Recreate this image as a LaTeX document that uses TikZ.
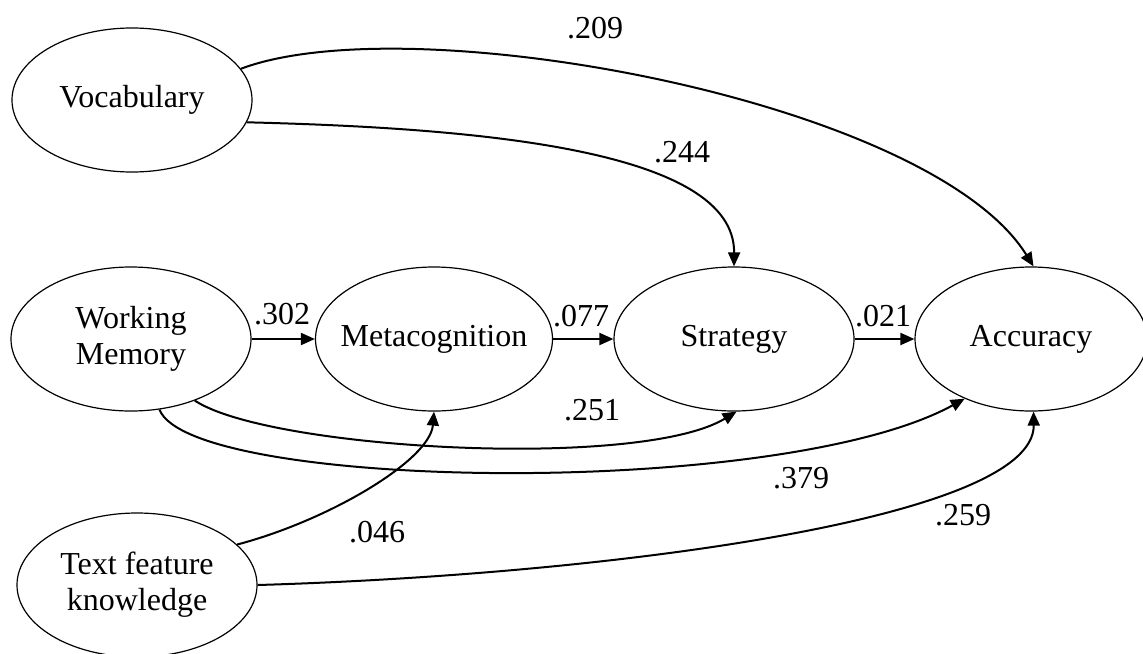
\documentclass[tikz,border=0pt]{standalone}
\usepackage{fontspec}
\setmainfont{Liberation Serif}
\usetikzlibrary{arrows.meta,shapes.geometric}
\begin{document}
\begin{tikzpicture}[x=0.5pt,y=-0.5pt,
  lat/.style={draw,line width=0.6pt,ellipse,minimum width=120pt,minimum height=72pt,inner xsep=-15pt,inner ysep=0pt,align=center,font=\fontsize{16}{18}\selectfont},
  pth/.style={draw,line width=1pt,-{Triangle[length=7pt,width=6pt]}},
  lbl/.style={font=\fontsize{16}{18}\selectfont,inner sep=0pt}]
\useasboundingbox (0,0) rectangle (1143,653);
\node[lat] (voc) at (132,100) {Vocabulary};
\node[lat] (wm) at (131,339) {Working\\Memory};
\node[lat,minimum width=118.5pt] (meta) at (434,339) {Metacognition};
\node[lat] (str) at (734,339) {Strategy};
\node[lat,minimum width=116pt] (acc) at (1031,339) {Accuracy};
\node[lat] (tfk) at (137,585) {Text feature\\knowledge};
% straight paths
\draw[pth] (wm.east) -- (meta.west);
\draw[pth] (meta.east) -- (str.west);
\draw[pth] (str.east) -- (acc.west);
% curved paths
\draw[pth] (voc.16) .. controls (410,5) and (930,100) .. (acc.88);
\draw[pth] (voc.-11) .. controls (480,128) and (735,150) .. (str.north);
\draw[pth] (wm.-44.5) .. controls (270,450) and (640,470) .. (str.-88);
\draw[pth] (wm.-68) .. controls (190,490) and (780,500) .. (acc.222);
\draw[pth] (tfk.22) .. controls (330,520) and (430,460) .. (meta.-90);
\draw[pth] (tfk.east) .. controls (600,575) and (1035,520) .. (acc.-88);
% labels
\node[lbl] (l209) at (595,28) {.209};
\node[lbl] (l244) at (682,152) {.244};
\node[lbl] (l302) at (282,314) {.302};
\node[lbl] (l077) at (581,316) {.077};
\node[lbl] (l021) at (883,316) {.021};
\node[lbl] (l251) at (592,410) {.251};
\node[lbl] (l379) at (801,478) {.379};
\node[lbl] (l046) at (377,532) {.046};
\node[lbl] (l259) at (963,515) {.259};
\end{tikzpicture}
\end{document}
